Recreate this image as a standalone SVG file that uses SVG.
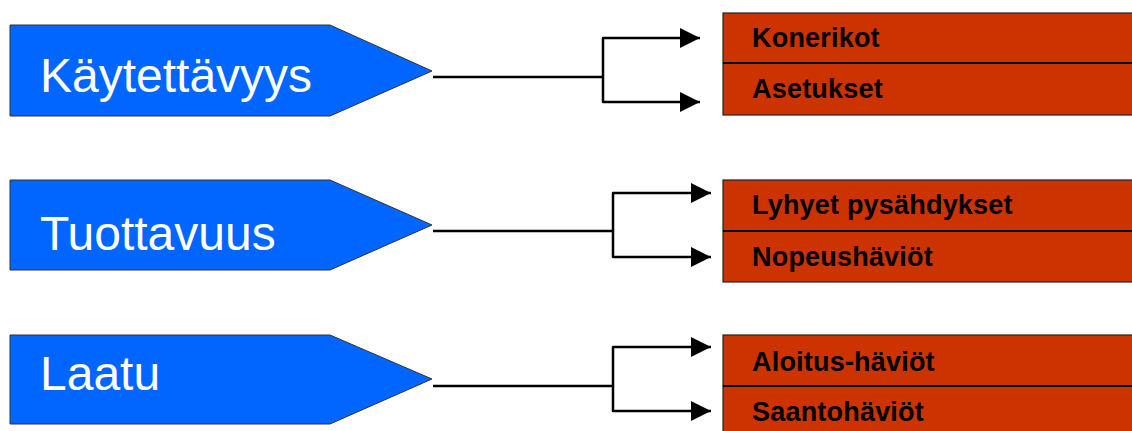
<svg xmlns="http://www.w3.org/2000/svg" width="1132" height="431" viewBox="0 0 1132 431">
  <defs>
    <style>
      .tag { fill: #0066FF; stroke: #333333; stroke-width: 1; }
      .tag-label { font-family: "Liberation Sans", Arial, sans-serif; font-size: 48px; fill: #FFFFFF; }
      .box { fill: #CC3300; stroke: #222222; stroke-width: 1.2; }
      .divider { stroke: #000000; stroke-width: 2; }
      .box-label { font-family: "Liberation Sans", Arial, sans-serif; font-size: 27px; font-weight: bold; fill: #000000; letter-spacing: 0.2px; }
      .wire { fill: none; stroke: #000000; stroke-width: 2.5; stroke-linejoin: round; }
    </style>
    <marker id="arrow" markerWidth="8" markerHeight="8" refX="8" refY="4" orient="auto" markerUnits="strokeWidth">
      <path d="M0,0 L8,4 L0,8 Z" fill="#000000"/>
    </marker>
  </defs>

  <rect width="1132" height="431" fill="#FFFFFF"/>

  <!-- Main categories -->
  <g id="kaytettavyys">
    <polygon class="tag" points="10,25 330,25 432,71 330,116 10,116"/>
    <text class="tag-label" x="40" y="92">Käytettävyys</text>
  </g>
  <g id="tuottavuus">
    <polygon class="tag" points="10,180 330,180 432,225 330,270 10,270"/>
    <text class="tag-label" x="40" y="250">Tuottavuus</text>
  </g>
  <g id="laatu">
    <polygon class="tag" points="10,335 330,335 432,379 330,424 10,424"/>
    <text class="tag-label" x="40" y="390">Laatu</text>
  </g>

  <!-- Loss categories -->
  <g id="kaytettavyys-losses">
    <rect class="box" x="723" y="13" width="420" height="102"/>
    <line class="divider" x1="723" y1="63" x2="1143" y2="63"/>
    <text class="box-label" x="752" y="47">Konerikot</text>
    <text class="box-label" x="752" y="98">Asetukset</text>
  </g>
  <g id="tuottavuus-losses">
    <rect class="box" x="723" y="180" width="420" height="102"/>
    <line class="divider" x1="723" y1="231" x2="1143" y2="231"/>
    <text class="box-label" x="752" y="214">Lyhyet pysähdykset</text>
    <text class="box-label" x="752" y="266">Nopeushäviöt</text>
  </g>
  <g id="laatu-losses">
    <rect class="box" x="723" y="335" width="420" height="102"/>
    <line class="divider" x1="723" y1="386" x2="1143" y2="386"/>
    <text class="box-label" x="752" y="371">Aloitus-häviöt</text>
    <text class="box-label" x="752" y="421">Saantohäviöt</text>
  </g>

  <!-- Connectors: trunk line from each tag, then a fork to both loss rows -->
  <g id="connectors">
    <line class="wire" x1="433" y1="77" x2="603" y2="77"/>
    <path class="wire" d="M603,77 V38 H700" marker-end="url(#arrow)"/>
    <path class="wire" d="M603,77 V102 H700" marker-end="url(#arrow)"/>

    <line class="wire" x1="433" y1="231" x2="613" y2="231"/>
    <path class="wire" d="M613,231 V193 H711" marker-end="url(#arrow)"/>
    <path class="wire" d="M613,231 V257 H711" marker-end="url(#arrow)"/>

    <line class="wire" x1="433" y1="386" x2="613" y2="386"/>
    <path class="wire" d="M613,386 V347 H711" marker-end="url(#arrow)"/>
    <path class="wire" d="M613,386 V411 H711" marker-end="url(#arrow)"/>
  </g>
</svg>
